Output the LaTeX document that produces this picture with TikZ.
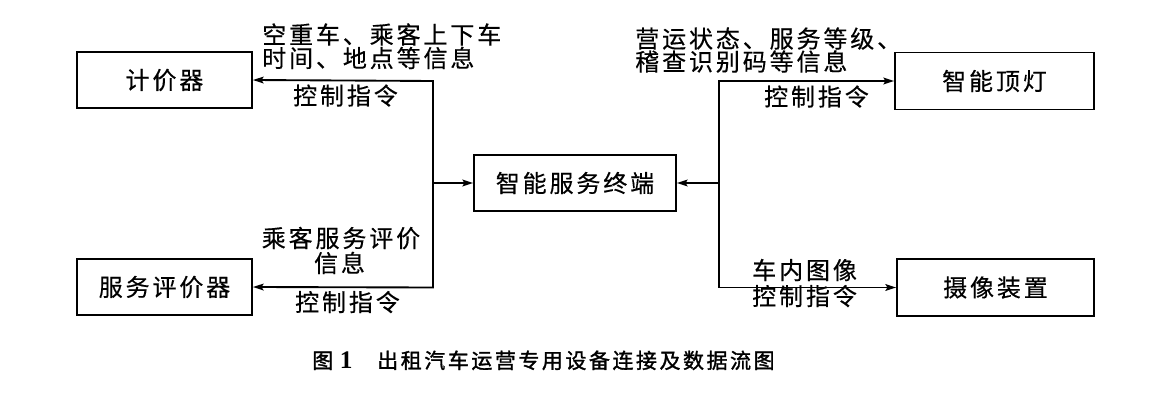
\documentclass[tikz,border=0pt]{standalone}
\usepackage{fontspec}
\newfontfamily\cjk[FakeBold=0.4,LetterSpace=12]{Noto Sans CJK SC}
\newfontfamily\cjkcap[FakeBold=1.4,LetterSpace=12]{Noto Sans CJK SC}
\newfontfamily\numfont{Liberation Serif}
\usetikzlibrary{arrows.meta}
\begin{document}
\begin{tikzpicture}[x=0.75pt,y=-0.75pt,
  box/.style={draw,line width=1.3pt,inner sep=0pt,font=\cjk\fontsize{18}{20}\selectfont},
  lbl/.style={inner sep=0pt,text height=0.78em,text depth=0em,font=\cjk\fontsize{18}{20}\selectfont},
  captext/.style={inner sep=0pt,text height=0.8em,text depth=0em,font=\cjkcap\fontsize{15.75}{18}\selectfont},
  wire/.style={line width=1.4pt},
  arr/.style={wire,-{Stealth[length=8pt,width=5pt,inset=1.5pt]}}]
\useasboundingbox (0,0) rectangle (1161,403);
% boxes
\node[box,minimum width=131.25pt,minimum height=42pt] (jjq) at (164.5,80) {计价器};
\node[box,minimum width=131.25pt,minimum height=42pt] (fwpjq) at (164.5,287) {服务评价器};
\node[box,minimum width=151.5pt,minimum height=42pt] (zd) at (575,183) {智能服务终端};
\node[box,minimum width=149.25pt,minimum height=42.75pt] (zndd) at (994.5,81) {智能顶灯};
\node[box,minimum width=147.75pt,minimum height=42.75pt] (sxzz) at (995.5,287.5) {摄像装置};
% junction points
\coordinate (LT) at (433,81);
\coordinate (LM) at (433,183);
\coordinate (LB) at (433,287.5);
\coordinate (RT) at (719,81);
\coordinate (RM) at (719,183);
\coordinate (RB) at (719,287.5);
% connectors
\draw[arr] (LB) -- (LT) -- (jjq.east);
\draw[arr] (LT) -- (LB) -- (fwpjq.east);
\draw[arr] (LM) -- (zd.west);
\draw[arr] (RB) -- (RT) -- (zndd.west);
\draw[arr] (RT) -- (RB) -- (sxzz.west);
\draw[arr] (RM) -- (zd.east);
% labels
\node[lbl,anchor=west] (t1a) at (262,38.5) {空重车、乘客上下车};
\node[lbl,anchor=west] (t1b) at (262,62) {时间、地点等信息};
\node[lbl] (t1c) at (345.5,99.5) {控制指令};
\node[lbl] (t2a) at (341,242) {乘客服务评价};
\node[lbl] (t2b) at (339.5,267) {信息};
\node[lbl] (t2c) at (347.5,306) {控制指令};
\node[lbl,anchor=west] (t3a) at (635,42.5) {营运状态、服务等级、};
\node[lbl,anchor=west] (t3b) at (635,65.5) {稽查识别码等信息};
\node[lbl] (t3c) at (816.5,100.5) {控制指令};
\node[lbl,anchor=west] (t4a) at (752,274) {车内图像};
\node[lbl,anchor=west] (t4b) at (752,300) {控制指令};
% caption
\node[captext,anchor=west] (capn) at (312,363) {图\hspace{5pt}{\numfont\bfseries\fontsize{19}{20}\selectfont 1}};
\node[captext,anchor=west] (capt) at (377,363) {出租汽车运营专用设备连接及数据流图};
\end{tikzpicture}
\end{document}
